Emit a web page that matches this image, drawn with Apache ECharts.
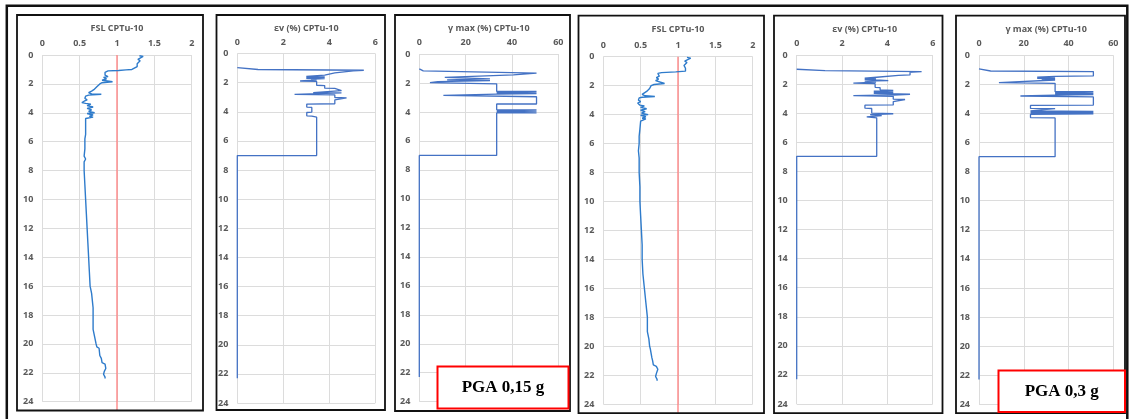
<!DOCTYPE html>
<html>
<head>
<meta charset="utf-8">
<script src="https://cdn.jsdelivr.net/npm/echarts@6/dist/echarts.min.js"></script>
<style>
html,body{margin:0;padding:0;background:#fff;}
#c{width:1130px;height:419px;}
</style>
</head>
<body>
<div id="c"></div>
<script>
// ---------- DATA ----------
const panelTitles = ['FSL CPTu-10', 'εv (%) CPTu-10', 'γ max (%) CPTu-10', 'FSL CPTu-10', 'εv (%) CPTu-10', 'γ max (%) CPTu-10'];
const depthTicks = [0, 24, 2];          // min, max, interval
const fslTicks = [0, 2, 0.5];
const evTicks = [0, 6, 2];
const gammaTicks = [0, 60, 20];
const pgaLabels = ['PGA 0,15 g', 'PGA 0,3 g'];
const fslLimit = [[1, 0], [1, 24.6]];

// FSL, PGA 0.15 g  : [FSL, depth m]
const fsl015 = [[1.30,0.05],[1.35,0.1],[1.33,0.2],[1.28,0.3],[1.31,0.4],[1.29,0.5],[1.27,0.6],[1.26,0.7],[1.27,0.8],[1.26,0.9],[1.20,1.0],[1.12,1.03],[1.02,1.07],[0.88,1.1],[0.84,1.2],[0.86,1.3],[0.84,1.4],[0.88,1.5],[0.82,1.55],[0.86,1.65],[0.80,1.75],[0.94,1.85],[0.80,1.92],[0.77,2.0],[0.78,2.1],[0.73,2.2],[0.75,2.3],[0.69,2.4],[0.66,2.5],[0.62,2.6],[0.60,2.65],[0.66,2.7],[0.79,2.72],[0.62,2.78],[0.58,2.85],[0.57,3.0],[0.60,3.1],[0.56,3.2],[0.53,3.3],[0.58,3.35],[0.65,3.4],[0.60,3.5],[0.68,3.6],[0.60,3.7],[0.66,3.8],[0.62,3.9],[0.70,4.0],[0.60,4.05],[0.68,4.15],[0.63,4.25],[0.68,4.3],[0.58,4.4],[0.58,5.0],[0.58,5.5],[0.57,5.8],[0.59,5.9],[0.57,6.0],[0.57,6.5],[0.56,7.0],[0.58,7.2],[0.56,7.4],[0.56,8.0],[0.57,9.0],[0.58,10],[0.59,11],[0.60,12],[0.61,13],[0.62,14],[0.63,15],[0.64,16],[0.66,16.5],[0.67,17],[0.68,17.5],[0.68,18],[0.68,18.5],[0.68,19],[0.70,19.5],[0.72,20],[0.73,20.2],[0.76,20.3],[0.77,20.8],[0.79,21.0],[0.80,21.3],[0.84,21.4],[0.85,21.7],[0.83,21.9],[0.85,22.0],[0.82,22.1],[0.84,22.3],[0.84,22.4]];

// εv (%), PGA 0.15 g : [εv, depth m]
const ev015 = [[0,0.97],[0.9,1.1],[5.5,1.15],[5.5,1.17],[5.04,1.19],[5.04,1.3],[4.24,1.33],[4.24,1.45],[3.8,1.48],[3.8,1.55],[3.0,1.57],[3.8,1.6],[3.0,1.63],[3.8,1.66],[3.0,1.7],[3.8,1.73],[3.2,1.78],[3.45,1.82],[3.45,1.87],[2.73,1.89],[3.45,1.92],[3.45,2.18],[3.8,2.2],[3.8,2.38],[4.24,2.4],[4.24,2.52],[4.53,2.55],[4.53,2.65],[3.3,2.68],[4.53,2.7],[2.49,2.8],[4.24,2.84],[4.24,3.02],[4.75,3.05],[4.75,3.15],[4.24,3.18],[4.24,3.45],[3.02,3.47],[3.02,3.68],[3.24,3.7],[3.24,4.02],[3.02,4.05],[3.02,4.28],[3.24,4.3],[3.45,4.37],[3.45,7.01],[0,7.01],[0,22.3]];

// γ max (%), PGA 0.15 g : [γ, depth m]
const gamma015 = [[0,1.03],[1.7,1.17],[50.6,1.32],[50.6,1.36],[40.6,1.44],[11,1.62],[30.5,1.72],[12,1.78],[30.5,1.84],[8,1.9],[4.6,1.97],[33.4,2.06],[33.4,2.58],[50.6,2.58],[50.6,2.62],[33.4,2.65],[50.6,2.68],[33.4,2.71],[50.6,2.74],[33.4,2.77],[10.4,2.86],[50.6,2.95],[50.6,3.45],[33.4,3.45],[33.4,3.84],[50.6,3.86],[33.4,3.9],[50.6,3.93],[33.4,3.97],[50.6,4.0],[33.4,4.04],[50.6,4.07],[33.4,4.07],[33.4,7.0],[0,7.0],[0,22.3]];

// FSL, PGA 0.3 g : [FSL, depth m]
const fsl03 = [[1.12,0.05],[1.17,0.1],[1.15,0.2],[1.09,0.3],[1.12,0.4],[1.10,0.5],[1.08,0.6],[1.09,0.7],[1.10,0.8],[1.09,0.9],[1.10,1.0],[0.97,1.05],[0.78,1.1],[0.73,1.15],[0.72,1.25],[0.75,1.35],[0.71,1.45],[0.74,1.55],[0.70,1.65],[0.72,1.75],[0.82,1.85],[0.68,1.92],[0.64,2.0],[0.66,2.1],[0.62,2.2],[0.63,2.3],[0.58,2.4],[0.56,2.5],[0.52,2.6],[0.51,2.65],[0.56,2.7],[0.69,2.75],[0.52,2.8],[0.48,2.85],[0.47,3.0],[0.50,3.1],[0.46,3.2],[0.44,3.3],[0.49,3.35],[0.55,3.4],[0.50,3.5],[0.58,3.6],[0.50,3.7],[0.56,3.8],[0.51,3.9],[0.60,4.0],[0.50,4.05],[0.57,4.15],[0.52,4.25],[0.57,4.3],[0.50,4.45],[0.49,5.0],[0.48,5.5],[0.48,6.0],[0.47,6.5],[0.48,7.0],[0.48,7.5],[0.48,8.0],[0.49,9.0],[0.49,10],[0.50,11],[0.51,12],[0.52,13],[0.52,14],[0.53,15],[0.55,16],[0.56,16.5],[0.57,17],[0.58,17.5],[0.59,18],[0.59,18.5],[0.59,19],[0.61,19.5],[0.62,20],[0.63,20.2],[0.64,20.3],[0.65,20.8],[0.66,21.0],[0.67,21.3],[0.71,21.4],[0.73,21.6],[0.71,21.9],[0.73,22.0],[0.70,22.1],[0.72,22.3],[0.72,22.4]];

// εv (%), PGA 0.3 g : [εv, depth m]
const ev03 = [[0,0.98],[1.25,1.07],[1.25,1.12],[5.51,1.14],[5.51,1.16],[5.0,1.19],[5.0,1.37],[4.49,1.4],[4.49,1.5],[3.53,1.53],[3.0,1.6],[3.5,1.64],[3.0,1.68],[3.5,1.72],[4.04,1.76],[3.0,1.8],[3.5,1.86],[2.5,1.93],[3.46,1.97],[3.46,2.22],[3.68,2.25],[3.68,2.4],[4.26,2.43],[3.4,2.48],[4.26,2.52],[3.4,2.56],[4.26,2.6],[3.4,2.64],[5.0,2.7],[4.26,2.75],[2.5,2.8],[4.26,2.84],[4.26,3.04],[4.78,3.06],[4.78,3.18],[4.26,3.2],[4.26,3.43],[3.01,3.45],[3.01,3.66],[3.31,3.68],[3.31,4.0],[4.26,4.04],[3.24,4.1],[3.75,4.16],[3.09,4.26],[3.53,4.32],[3.53,6.97],[0,6.97],[0,22.3]];

// γ max (%), PGA 0.3 g : [γ, depth m]
const gamma03 = [[0,0.94],[5.2,1.08],[51.1,1.12],[51.1,1.42],[34,1.45],[26,1.5],[34,1.54],[26,1.58],[34,1.62],[28,1.66],[34,1.7],[34,1.82],[8.9,1.88],[34,1.93],[34,2.5],[51.1,2.5],[51.1,2.54],[34,2.57],[51.1,2.61],[34,2.65],[51.1,2.7],[34,2.74],[18.5,2.8],[51.1,2.86],[51.1,3.42],[23,3.45],[23,3.65],[34,3.67],[34,3.8],[23,3.82],[51.1,3.86],[23,3.9],[51.1,3.94],[23,3.98],[51.1,4.02],[23,4.06],[23,4.28],[34,4.31],[34,6.97],[0,6.97],[0,22.3]];

// ---------- LAYOUT ----------
const grids = [
  {left: 42.3, top: 55,   width: 149.4, height: 346.7},
  {left: 237.3, top: 53.5, width: 138,  height: 349.5},
  {left: 419.3, top: 54,  width: 139,   height: 347.7},
  {left: 603.3, top: 56.7, width: 149.4, height: 347.3},
  {left: 796.7, top: 55,  width: 136,   height: 349},
  {left: 979,  top: 55.3, width: 134.3, height: 349}
];
const frames = [
  [17, 15, 186, 395.5],
  [216.5, 15, 168.5, 395],
  [395, 15, 175, 396],
  [578.5, 15.7, 185.5, 397.5],
  [774, 15.7, 168.5, 397.5],
  [956, 15.7, 169, 397.5]
];
const xTicks = [fslTicks, evTicks, gammaTicks, fslTicks, evTicks, gammaTicks];
const seriesData = [fsl015, ev015, gamma015, fsl03, ev03, gamma03];

const labelStyle = {fontSize: 9, color: '#595959', fontWeight: 'bold', fontFamily: 'Open Sans'};
const gridLine = {show: true, lineStyle: {color: '#DCDCDC', width: 1}};

const option = {
  animation: false,
  backgroundColor: '#fff',
  grid: grids.map(g => Object.assign({containLabel: false}, g)),
  xAxis: grids.map((g, i) => ({
    gridIndex: i, type: 'value', position: 'top',
    min: xTicks[i][0], max: xTicks[i][1], interval: xTicks[i][2],
    axisLine: {show: false}, axisTick: {show: false},
    splitLine: gridLine,
    axisLabel: Object.assign({margin: 7}, labelStyle)
  })),
  yAxis: grids.map((g, i) => ({
    gridIndex: i, type: 'value', inverse: true,
    min: depthTicks[0], max: depthTicks[1], interval: depthTicks[2],
    axisLine: {show: false}, axisTick: {show: false},
    splitLine: gridLine,
    axisLabel: Object.assign({margin: 9}, labelStyle)
  })),
  series: []
};

seriesData.forEach((d, i) => {
  const isFsl = (i % 3 === 0);
  option.series.push({
    type: 'line', xAxisIndex: i, yAxisIndex: i, data: d,
    symbol: 'none', smooth: false, clip: false,
    lineStyle: {color: isFsl ? '#2E7BCB' : '#4472C4', width: isFsl ? 1.4 : 1.3},
    z: 3
  });
  if (isFsl) {
    option.series.push({
      type: 'line', xAxisIndex: i, yAxisIndex: i, data: fslLimit,
      symbol: 'none', clip: false,
      lineStyle: {color: '#FF7F7F', width: 1.3}, z: 2
    });
  }
});

const graphics = [];
// outer frame
graphics.push({type: 'rect', shape: {x: 6.8, y: 5.8, width: 1120.5, height: 430},
  style: {fill: 'none', stroke: '#111', lineWidth: 2.5}, z: 10});
frames.forEach((f, i) => {
  graphics.push({type: 'rect', shape: {x: f[0], y: f[1], width: f[2], height: f[3]},
    style: {fill: 'none', stroke: '#111', lineWidth: 1.8}, z: 10});
  const g = grids[i];
  graphics.push({type: 'text', x: g.left + g.width / 2, y: f[1] + 13.5,
    style: {text: panelTitles[i], fill: '#595959', font: 'bold 9px "Open Sans"',
      textAlign: 'center', textVerticalAlign: 'middle'}, z: 10});
});
// PGA boxes
const boxes = [[437.5, 366.5, 131, 42], [998.5, 370.5, 126.5, 41.5]];
boxes.forEach((b, i) => {
  graphics.push({type: 'rect', shape: {x: b[0], y: b[1], width: b[2], height: b[3]},
    style: {fill: '#fff', stroke: '#FF0000', lineWidth: 2}, z: 20});
  graphics.push({type: 'text', x: b[0] + b[2] / 2, y: b[1] + b[3] / 2,
    style: {text: pgaLabels[i], fill: '#000', font: 'bold 17px "Liberation Serif"',
      textAlign: 'center', textVerticalAlign: 'middle'}, z: 21});
});
option.graphic = graphics;

const chart = echarts.init(document.getElementById('c'), null, {renderer: 'canvas'});
chart.setOption(option);
</script>
</body>
</html>
